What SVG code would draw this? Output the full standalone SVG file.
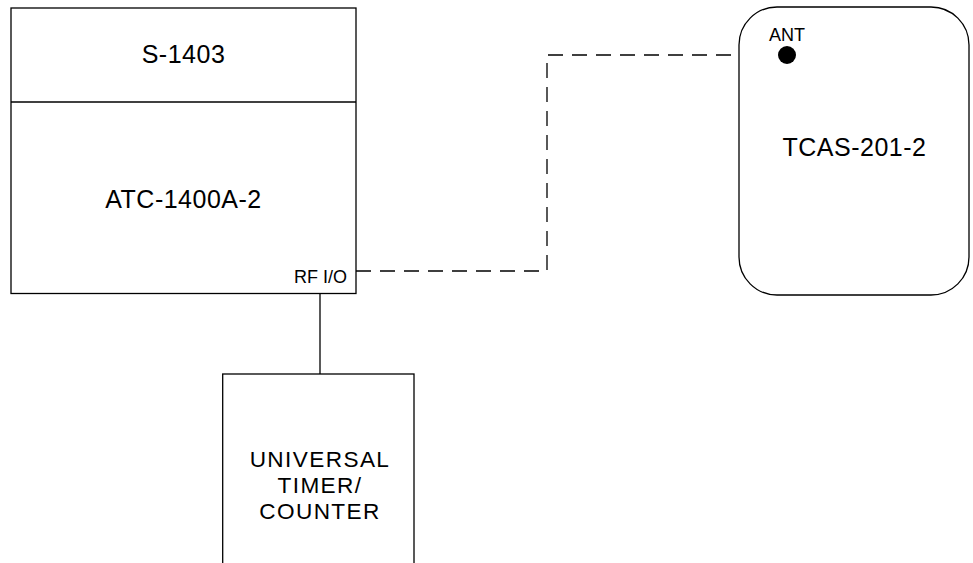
<svg xmlns="http://www.w3.org/2000/svg" width="973" height="563" viewBox="0 0 973 563">
<style>
.box{fill:#fff;stroke:#000;stroke-width:1.3}
.t{font-family:"Liberation Sans",Arial,sans-serif;font-size:25px;letter-spacing:0.5px;fill:#000;text-anchor:middle}
.u{font-size:22.6px;letter-spacing:1.4px}
.s{font-family:"Liberation Sans",Arial,sans-serif;font-size:18px;fill:#000}
.c{fill:none;stroke:#000;stroke-width:1.3}
.d{stroke-dasharray:15 9}
</style>
<rect width="973" height="563" fill="#fff"/>
<g id="connectors">
<line class="c" x1="320" y1="293.5" x2="320" y2="374"/>
<polyline class="c d" points="356,271 547,271 547,55 778,55"/>
</g>
<g id="atc">
<rect class="box" x="11" y="8" width="345" height="285.5"/>
<line class="c" x1="11" y1="102" x2="356" y2="102"/>
<text class="t" x="183.5" y="63">S-1403</text>
<text class="t" x="183.5" y="208">ATC-1400A-2</text>
<text class="s" x="347" y="283" text-anchor="end">RF I/O</text>
</g>
<g id="tcas">
<rect class="box" x="739" y="7" width="230" height="288" rx="38" ry="38"/>
<circle cx="787" cy="55" r="9" fill="#000"/>
<text class="s" x="787" y="41" text-anchor="middle">ANT</text>
<text class="t" x="854.5" y="156">TCAS-201-2</text>
</g>
<g id="timer">
<rect class="box" x="222.7" y="374" width="191.3" height="200"/>
<text class="t u"><tspan x="320" y="467">UNIVERSAL</tspan><tspan x="320" y="493">TIMER/</tspan><tspan x="320" y="519">COUNTER</tspan></text>
</g>
</svg>
